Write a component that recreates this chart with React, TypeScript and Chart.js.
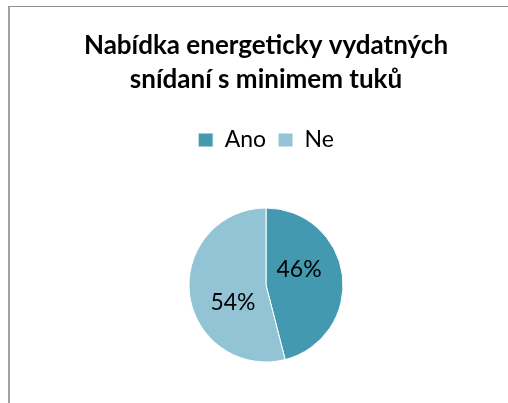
import React, { useEffect, useRef } from "react";
import { Chart, registerables } from "chart.js";

Chart.register(...registerables);

const titleLines = ["Nabídka energeticky vydatných", "snídaní s minimem tuků"];
const categories = ["Ano", "Ne"];
const values = [46, 54];
const colors = ["#4399B0", "#93C4D5"];

const FONT = "Lato, 'Noto Sans', sans-serif";

const labelPlugin = {
  id: "sliceLabels",
  afterDatasetsDraw(chart: any) {
    const ctx = chart.ctx;
    const meta = chart.getDatasetMeta(0);
    const total = values.reduce((a, b) => a + b, 0);
    const size = 23;
    ctx.save();
    ctx.font = `${size}px ${FONT}`;
    ctx.fillStyle = "#000";
    ctx.textAlign = "center";
    ctx.textBaseline = "alphabetic";
    meta.data.forEach((arc: any, i: number) => {
      const p = arc.getProps(["x", "y", "startAngle", "endAngle", "outerRadius"], true);
      const mid = (p.startAngle + p.endAngle) / 2 - (19.5 * Math.PI) / 180;
      const r = p.outerRadius * 0.48;
      const x = p.x + Math.cos(mid) * r;
      const y = p.y + Math.sin(mid) * r;
      ctx.fillText(Math.round((values[i] / total) * 100) + "%", x, y + size * 0.36);
    });
    ctx.restore();
  },
};

export default function App() {
  const ref = useRef<HTMLCanvasElement>(null);
  useEffect(() => {
    if (!ref.current) return;
    const chart = new Chart(ref.current, {
      type: "pie",
      data: {
        labels: categories,
        datasets: [
          {
            data: values,
            backgroundColor: colors,
            borderColor: "#ffffff",
            borderWidth: 1,
          },
        ],
      },
      options: {
        responsive: false,
        animation: false,
        radius: 77,
        layout: { padding: { left: 0, right: 0, top: 0, bottom: 0.5 } },
        plugins: {
          title: {
            display: true,
            text: titleLines,
            color: "#000",
            font: { family: FONT, size: 26, weight: "bold", lineHeight: 34 / 26 },
            padding: { top: 22, bottom: 19.5 },
          },
          legend: {
            display: true,
            position: "top",
            labels: {
              color: "#000",
              boxWidth: 15,
              boxHeight: 14,
              padding: 12,
              font: { family: FONT, size: 23 },
            },
          },
          tooltip: { enabled: false },
        },
      } as any,
      plugins: [labelPlugin],
    });
    return () => chart.destroy();
  }, []);

  return (
    <div
      style={{
        position: "absolute",
        left: 0,
        top: 0,
        width: 508,
        height: 403,
        overflow: "hidden",
        background: "#fff",
      }}
    >
      <div
        style={{
          position: "absolute",
          left: 8,
          top: 6,
          width: 520,
          height: 410,
          borderLeft: "2px solid #a0a0a0",
          borderTop: "1px solid #909090",
        }}
      >
        <canvas ref={ref} width={512} height={402} style={{ display: "block", width: 512, height: 402 }} />
      </div>
    </div>
  );
}
